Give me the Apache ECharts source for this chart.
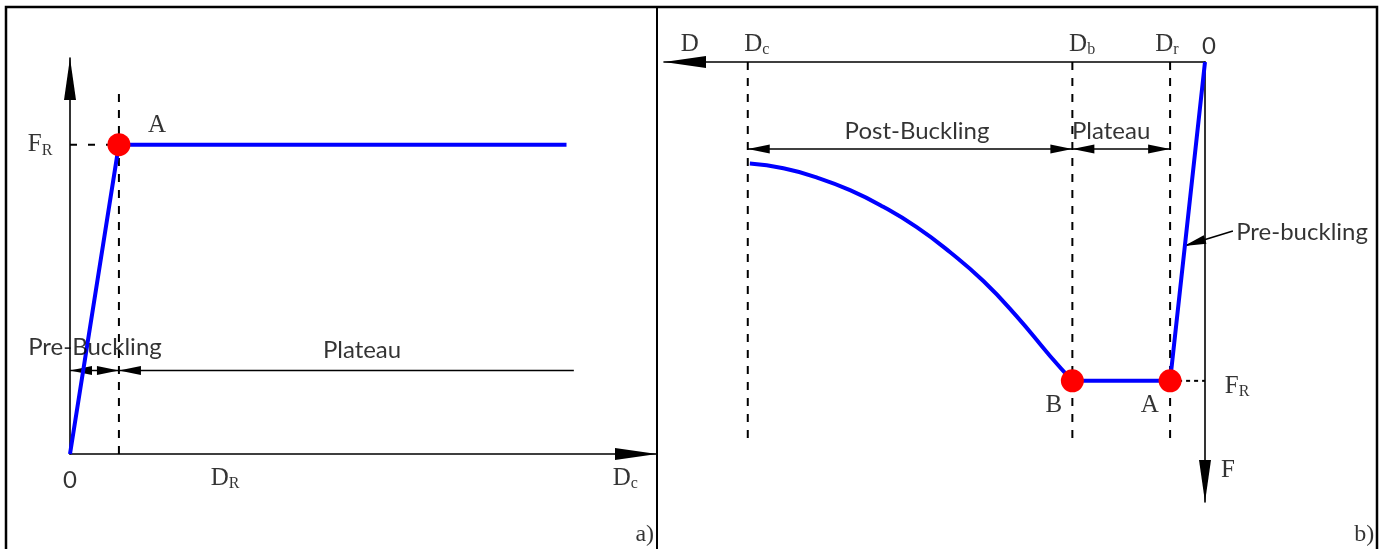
<!DOCTYPE html>
<html>
<head>
<meta charset="utf-8">
<script src="https://cdn.jsdelivr.net/npm/echarts@6/dist/echarts.min.js"></script>
<style>
html,body{margin:0;padding:0;background:#fff}
#chart{width:1387px;height:549px}
</style>
</head>
<body>
<div id="chart"></div>
<script>
// units: D in multiples of D_R, F in multiples of F_R

// a) F up, D to the right
var curveA = [[0, 0], [1, 1], [10.15, 1]];
var pointA = [[1, 1]];
var dashVA = [[1, 0], [1, 1.183]];
var dashHA = [[0, 1], [1, 1]];
// dimension lines: x1, y1, x2, y2, arrow at start, arrow at end
var dimsA = [[0, 0.27, 1, 0.27, 1, 1], [1, 0.27, 10.3, 0.27, 1, 0]];
var labelsA = [
  {name: '{t|F}{s|R}', value: [-0.61, 1.0]},
  {name: '{t|A}', value: [1.78, 1.063]},
  {name: '{n|0}', value: [0, -0.084]},
  {name: '{t|D}{s|R}', value: [3.17, -0.078]},
  {name: '{t|D}{s|c}', value: [11.35, -0.078]},
  {name: '{p|a)}', value: [11.75, -0.262]},
  {name: '{n|Pre-Buckling}', value: [0.51, 0.346]},
  {name: '{n|Plateau}', value: [5.97, 0.336]}
];

// b) D to the left, F downward
var postB = [[13.04, 0.318], [12.08, 0.333], [11.13, 0.362], [10.17, 0.402], [9.22, 0.454],
  [8.26, 0.518], [7.31, 0.596], [6.35, 0.687], [5.4, 0.797], [4.44, 0.922], [3.8, 1]];
var plateauB = [[3.8, 1], [1, 1], [0, 0]];
var pointsB = [[3.8, 1], [1, 1]];
var dashXB = [13.1, 3.8, 1];
var dotB = [[1, 1], [0, 1]];
var dimsB = [[13.1, 0.273, 3.8, 0.273, 1, 1], [3.8, 0.273, 1, 0.273, 1, 1], [-0.8, 0.53, 0.6, 0.577, 0, 1]];
var labelsB = [
  {name: '{t|D}', value: [14.76, -0.056]},
  {name: '{t|D}{s|c}', value: [12.84, -0.056]},
  {name: '{t|D}{s|b}', value: [3.52, -0.056]},
  {name: '{t|D}{s|r}', value: [1.09, -0.056]},
  {name: '{n|0}', value: [-0.11, -0.05]},
  {name: '{n|Post-Buckling}', value: [8.25, 0.216]},
  {name: '{n|Plateau}', value: [2.69, 0.216]},
  {name: '{t|B}', value: [4.33, 1.076]},
  {name: '{t|A}', value: [1.58, 1.076]},
  {name: '{t|F}{s|R}', value: [-0.92, 1.016]},
  {name: '{t|F}', value: [-0.66, 1.28]},
  {name: '{n|Pre-buckling}', value: [-2.78, 0.533]},
  {name: '{p|b)}', value: [-4.56, 1.483]}
];

var chart = echarts.init(document.getElementById('chart'), null, {renderer: 'canvas'});

// the arrow follows the pixel end of the axis, so inverse axes get it at the start
function axis(grid, max, inv, extra) {
  var a = {
    gridIndex: grid, type: 'value', min: 0, max: max, inverse: inv,
    axisLine: {show: true, onZero: false,
      symbol: inv ? ['triangle', 'none'] : ['none', 'triangle'], symbolSize: [12, 42],
      symbolOffset: inv ? [21, 0] : [0, -21], lineStyle: {color: '#000', width: 1.6}},
    axisTick: {show: false}, axisLabel: {show: false}, splitLine: {show: false}
  };
  return Object.assign(a, extra || {});
}

function dimRender(params, api) {
  var p1 = api.coord([api.value(0), api.value(1)]);
  var p2 = api.coord([api.value(2), api.value(3)]);
  var dx = p2[0] - p1[0], dy = p2[1] - p1[1];
  var len = Math.sqrt(dx * dx + dy * dy), ux = dx / len, uy = dy / len;
  var kids = [{type: 'line', shape: {x1: p1[0], y1: p1[1], x2: p2[0], y2: p2[1]},
    style: {stroke: '#000', lineWidth: 1.6}}];
  function head(p, sx, sy) {
    var L = 22, W = 4.5, bx = p[0] + sx * L, by = p[1] + sy * L;
    return {type: 'polygon', shape: {points: [[p[0], p[1]], [bx - sy * W, by + sx * W], [bx + sy * W, by - sx * W]]},
      style: {fill: '#000'}};
  }
  if (api.value(4)) kids.push(head(p1, ux, uy));
  if (api.value(5)) kids.push(head(p2, -ux, -uy));
  return {type: 'group', children: kids};
}

var rich = {
  t: {fontFamily: 'Liberation Serif', fontSize: 25, color: '#000', lineHeight: 28},
  s: {fontFamily: 'Liberation Serif', fontSize: 16, color: '#000', lineHeight: 16, verticalAlign: 'bottom'},
  n: {fontFamily: 'Lato', fontSize: 24, color: '#000'},
  p: {fontFamily: 'Liberation Serif', fontSize: 24, color: '#000'}
};

function labels(xi, data) {
  return {type: 'scatter', xAxisIndex: xi, yAxisIndex: xi, clip: false, silent: true,
    symbolSize: 1, itemStyle: {color: 'rgba(0,0,0,0)'}, z: 5,
    label: {show: true, position: 'inside', formatter: '{b}', rich: rich}, data: data};
}

function line(xi, data, style, extra) {
  return Object.assign({type: 'line', xAxisIndex: xi, yAxisIndex: xi, symbol: 'none', silent: true,
    lineStyle: style, data: data}, extra || {});
}

function dots(xi, data) {
  return {type: 'scatter', xAxisIndex: xi, yAxisIndex: xi, symbolSize: 23, silent: true,
    itemStyle: {color: '#ff0000', opacity: 1}, z: 4, data: data};
}

var dash = {color: '#000', width: 2, type: [8, 8]};
var series = [
  line(0, dashVA, dash),
  line(0, dashHA, {color: '#000', width: 2, type: [7, 11]}),
  line(0, curveA, {color: '#0000ff', width: 4}),
  dots(0, pointA),
  {type: 'custom', xAxisIndex: 0, yAxisIndex: 0, renderItem: dimRender, data: dimsA, silent: true},
  labels(0, labelsA)
];
dashXB.forEach(function (x) {
  series.push(line(1, [[x, 0], [x, 1.18]], dash));
});
series.push(
  line(1, dotB, {color: '#000', width: 2, type: [4, 4]}),
  line(1, postB, {color: '#0000ff', width: 4}, {smooth: 0.5}),
  line(1, plateauB, {color: '#0000ff', width: 4}),
  dots(1, pointsB),
  {type: 'custom', xAxisIndex: 1, yAxisIndex: 1, renderItem: dimRender, data: dimsB, silent: true},
  labels(1, labelsB)
);

chart.setOption({
  animation: false,
  backgroundColor: '#fff',
  grid: [
    {left: 70, top: 58, width: 587, height: 396, outerBoundsMode: 'none'},
    {left: 664, top: 62, width: 541, height: 440, outerBoundsMode: 'none'}
  ],
  xAxis: [axis(0, 12, false), axis(1, 15.5, true, {position: 'top'})],
  yAxis: [axis(0, 1.28, false), axis(1, 1.38, true, {position: 'right'})],
  graphic: [
    {type: 'rect', shape: {x: 6, y: 7, width: 1371, height: 560}, style: {fill: 'none', stroke: '#000', lineWidth: 2.5}, z: 10},
    {type: 'line', shape: {x1: 657, y1: 7, x2: 657, y2: 560}, style: {stroke: '#000', lineWidth: 2}, z: 10}
  ],
  series: series
});
</script>
</body>
</html>
